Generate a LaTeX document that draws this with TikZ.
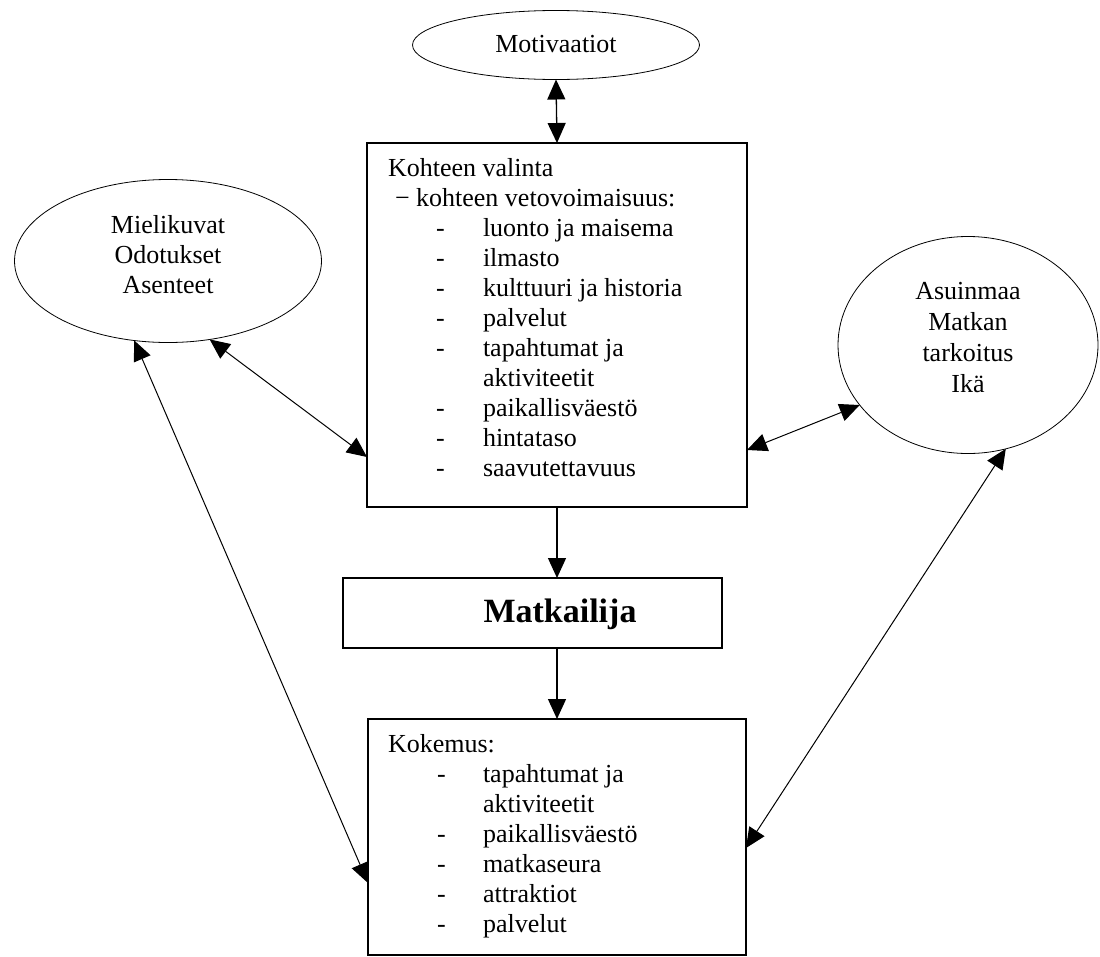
\documentclass[tikz,border=0pt]{standalone}
\usepackage{fontspec}
\setmainfont{Liberation Serif}
\usetikzlibrary{arrows.meta,shapes.geometric}
\begin{document}
\begin{tikzpicture}[x=1pt,y=-1pt,
  every node/.style={inner sep=0pt, outer sep=0pt},
  txt/.style={font=\fontsize{26}{30}\selectfont, anchor=base west},
  ctxt/.style={font=\fontsize{26}{30}\selectfont, anchor=base},
  box/.style={draw, line width=1.3pt},
  oval/.style={draw, ellipse, line width=0.8pt},
  tipA/.tip={Triangle[length=20pt,width=18pt]},
  con/.style={line width=1.3pt, -tipA},
  dcon/.style={line width=1pt, tipA-tipA}]
\useasboundingbox (0,0) rectangle (1100,956);

% ellipses
\node[oval, minimum width=287pt, minimum height=69pt] (mot) at (556,45) {};
\node[ctxt] (mottxt) at (556,52) {Motivaatiot};

\node[oval, minimum width=307pt, minimum height=163pt] (miel) at (168,261) {};
\node[ctxt] (miel1) at (168,233) {Mielikuvat};
\node[ctxt] (miel2) at (168,263) {Odotukset};
\node[ctxt] (miel3) at (168,293) {Asenteet};

\node[oval, minimum width=260pt, minimum height=217pt] (asu) at (968,345) {};
\node[ctxt] (asu1) at (968,299) {Asuinmaa};
\node[ctxt] (asu2) at (968,330) {Matkan};
\node[ctxt] (asu3) at (968,361) {tarkoitus};
\node[ctxt] (asu4) at (968,392) {Ikä};

% boxes
\node[box, minimum width=380pt, minimum height=364pt] (kohde) at (557,325) {};
\node[txt] (kt1) at (388,176) {Kohteen valinta};
\node[txt] (kt2) at (395,206) {− kohteen vetovoimaisuus:};
\foreach \t/\y [count=\i] in {luonto ja maisema/236, ilmasto/266, kulttuuri ja historia/296, palvelut/326, tapahtumat ja/356, aktiviteetit/386, paikallisväestö/416, hintataso/446, saavutettavuus/476}
  \node[txt] (ki\i) at (483,\y) {\t};
\foreach \y [count=\i] in {236,266,296,326,356,416,446,476}
  \node[txt] (kd\i) at (436,\y) {-};

\node[box, minimum width=379pt, minimum height=70pt] (mat) at (532.5,613) {};
\node[anchor=base, font=\fontsize{34}{40}\selectfont\bfseries] (mattxt) at (560,622) {Matkailija};

\node[box, minimum width=378pt, minimum height=236pt] (kok) at (557,837) {};
\node[txt] (ko1) at (388,752) {Kokemus:};
\foreach \t/\y [count=\i] in {tapahtumat ja/782, aktiviteetit/812, paikallisväestö/842, matkaseura/872, attraktiot/902, palvelut/932}
  \node[txt] (koi\i) at (483,\y) {\t};
\foreach \y [count=\i] in {782,842,872,902,932}
  \node[txt] (kod\i) at (437,\y) {-};

% connectors
\draw[dcon, line width=1.3pt] (mot.south) -- (kohde.north);
\draw[con] (kohde.south) -- (kohde.south |- mat.north);
\draw[con] (mat.south -| kok.north) -- (kok.north);
\draw[dcon] (miel.-62.6) -- ([yshift=50pt]kohde.south west);
\draw[dcon] (miel.-113) -- ([yshift=72pt]kok.south west);
\draw[dcon] (asu.-151.3) -- ([yshift=57pt]kohde.south east);
\draw[dcon] (asu.-70.8) -- ([yshift=107pt]kok.south east);
\end{tikzpicture}
\end{document}
